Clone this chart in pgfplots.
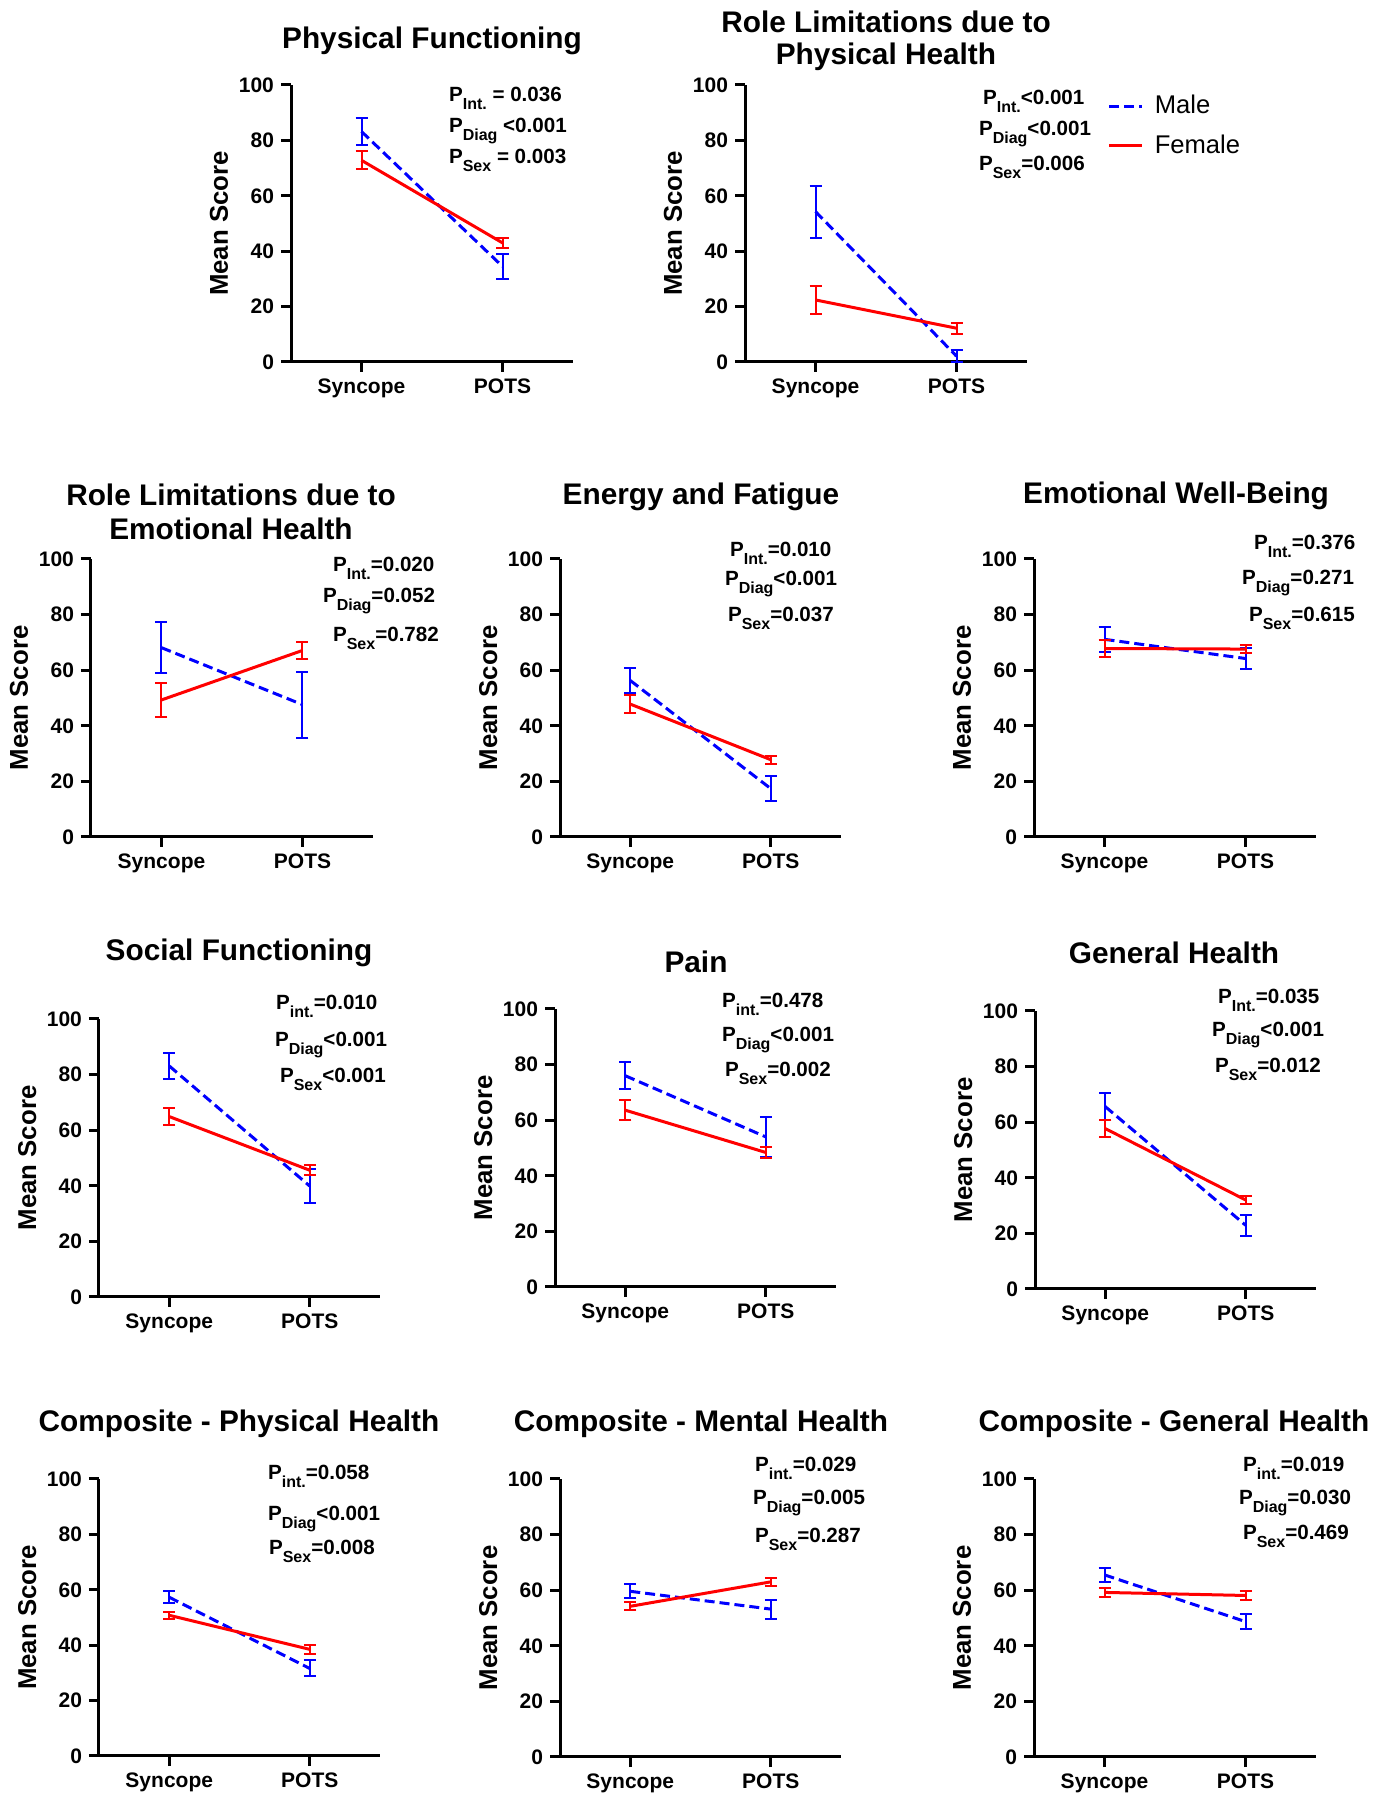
\documentclass[border=0pt]{standalone}
\usepackage{fontspec}
\setmainfont{Liberation Sans}
\usepackage{pgfplots}
\pgfplotsset{compat=1.18}
\newlength\px
\setlength\px{0.5pt}
\definecolor{mblue}{RGB}{0,0,255}
\definecolor{fred}{RGB}{255,0,0}
\newcommand\sub[1]{\raisebox{-3.85pt}{\fontsize{8}{9}\selectfont #1}}
\newcommand\pf{\bfseries\fontsize{10.3}{12}\selectfont}
\newcommand\tf{\bfseries\fontsize{14.9}{17}\selectfont}
\pgfplotsset{
  panel/.style={
    scale only axis, anchor=south west,
    xmin=-0.5, xmax=1.5, ymin=0, ymax=100,
    axis lines=left,
    axis line style={-, line width=1.5pt, black},
    tick align=outside,
    major tick length=10\px,
    tick style={line width=1.5pt, black},
    xtick={0,1}, xticklabels={Syncope,POTS},
    ytick={0,20,40,60,80,100},
    /pgf/number format/assume math mode=true,
    ticklabel style={font=\bfseries\fontsize{10.5}{12}\selectfont},
    ylabel={Mean Score},
    ylabel style={at={(axis description cs:-0.255,0.5)}, anchor=center, font=\bfseries\fontsize{12.9}{14}\selectfont},
    clip=false,
    legend image code/.code={\draw[##1] (0pt,0pt) -- (16.5pt,0pt);},
  },
  male/.style={mblue, line width=1.5pt, dash pattern=on 5pt off 2.5pt, mark=none,
    error bars/.cd, y dir=both, y explicit,
    error bar style={line width=1pt, solid, mblue},
    error mark options={rotate=90, mark size=3pt, line width=1pt, solid, mblue}},
  female/.style={fred, line width=1.5pt, solid, mark=none,
    error bars/.cd, y dir=both, y explicit,
    error bar style={line width=1pt, solid, fred},
    error mark options={rotate=90, mark size=3pt, line width=1pt, solid, fred}},
}
\begin{document}
\begin{tikzpicture}
\useasboundingbox (0,0) rectangle (1373\px,1800\px);

% Panel 1: Physical Functioning
\begin{axis}[panel, at={(291\px,1438\px)}, width=282\px, height=277\px]
\addplot[male] coordinates {(0,83.2) +- (0,5.0) (1,34.5) +- (0,4.5)};
\addplot[female] coordinates {(0,72.8) +- (0,3.3) (1,43.0) +- (0,1.8)};
\end{axis}
\node[anchor=base, font=\tf] at (432\px,1751\px) {Physical Functioning};
\node[anchor=base west, font=\pf] at (442\px,1698\px) {P\sub{Int.} = 0.036};
\node[anchor=base west, font=\pf] at (442\px,1667\px) {P\sub{Diag} <0.001};
\node[anchor=base west, font=\pf] at (442\px,1636\px) {P\sub{Sex} = 0.003};

% Panel 2: Role Limitations due to Physical Health
\begin{axis}[panel, at={(745\px,1438\px)}, width=282\px, height=277\px,
  legend style={at={(axis description cs:1.285,0.852)}, anchor=west, draw=none, fill=none,
    inner sep=0pt, font=\fontsize{12.8}{14}\selectfont, row sep=5pt, column sep=3.5pt},
  legend cell align=left]
\addplot[male] coordinates {(0,54.3) +- (0,9.4) (1,2.1) +- (0,2.1)};
\addlegendentry{Male}
\addplot[female] coordinates {(0,22.4) +- (0,5.2) (1,12.2) +- (0,2.0)};
\addlegendentry{Female}
\end{axis}
\node[anchor=base, font=\tf] at (886\px,1767\px) {Role Limitations due to};
\node[anchor=base, font=\tf] at (886\px,1735\px) {Physical Health};
\node[anchor=base west, font=\pf] at (976\px,1695\px) {P\sub{Int.}<0.001};
\node[anchor=base west, font=\pf] at (972\px,1664\px) {P\sub{Diag}<0.001};
\node[anchor=base west, font=\pf] at (972\px,1629\px) {P\sub{Sex}=0.006};

% Panel 3: Role Limitations due to Emotional Health
\begin{axis}[panel, at={(91\px,963\px)}, width=282\px, height=278\px]
\addplot[male] coordinates {(0,68.1) +- (0,9.1) (1,47.6) +- (0,11.9)};
\addplot[female] coordinates {(0,49.3) +- (0,6.0) (1,67.1) +- (0,3.2)};
\end{axis}
\node[anchor=base, font=\tf] at (231\px,1294\px) {Role Limitations due to};
\node[anchor=base, font=\tf] at (231\px,1260\px) {Emotional Health};
\node[anchor=base west, font=\pf] at (326\px,1228\px) {P\sub{Int.}=0.020};
\node[anchor=base west, font=\pf] at (316\px,1197\px) {P\sub{Diag}=0.052};
\node[anchor=base west, font=\pf] at (326\px,1158\px) {P\sub{Sex}=0.782};

% Panel 4: Energy and Fatigue
\begin{axis}[panel, at={(560\px,963\px)}, width=281\px, height=278\px]
\addplot[male] coordinates {(0,56.3) +- (0,4.6) (1,17.4) +- (0,4.5)};
\addplot[female] coordinates {(0,47.8) +- (0,3.2) (1,27.8) +- (0,1.4)};
\end{axis}
\node[anchor=base, font=\tf] at (701\px,1295\px) {Energy and Fatigue};
\node[anchor=base west, font=\pf] at (723\px,1243\px) {P\sub{Int.}=0.010};
\node[anchor=base west, font=\pf] at (718\px,1214\px) {P\sub{Diag}<0.001};
\node[anchor=base west, font=\pf] at (721\px,1178\px) {P\sub{Sex}=0.037};

% Panel 5: Emotional Well-Being
\begin{axis}[panel, at={(1034\px,963\px)}, width=282\px, height=278\px]
\addplot[male] coordinates {(0,71.1) +- (0,4.6) (1,64.2) +- (0,3.7)};
\addplot[female] coordinates {(0,67.8) +- (0,3.0) (1,67.6) +- (0,1.5)};
\end{axis}
\node[anchor=base, font=\tf] at (1176\px,1296\px) {Emotional Well-Being};
\node[anchor=base west, font=\pf] at (1247\px,1250\px) {P\sub{Int.}=0.376};
\node[anchor=base west, font=\pf] at (1235\px,1215\px) {P\sub{Diag}=0.271};
\node[anchor=base west, font=\pf] at (1242\px,1178\px) {P\sub{Sex}=0.615};

% Panel 6: Social Functioning
\begin{axis}[panel, at={(99\px,503\px)}, width=281\px, height=278\px]
\addplot[male] coordinates {(0,83.1) +- (0,4.7) (1,39.9) +- (0,6.1)};
\addplot[female] coordinates {(0,64.9) +- (0,3.1) (1,45.6) +- (0,1.8)};
\end{axis}
\node[anchor=base, font=\tf] at (239\px,839\px) {Social Functioning};
\node[anchor=base west, font=\pf] at (269\px,790\px) {P\sub{int.}=0.010};
\node[anchor=base west, font=\pf] at (268\px,753\px) {P\sub{Diag}<0.001};
\node[anchor=base west, font=\pf] at (273\px,717\px) {P\sub{Sex}<0.001};

% Panel 7: Pain
\begin{axis}[panel, at={(555\px,513\px)}, width=281\px, height=278\px]
\addplot[male] coordinates {(0,76.0) +- (0,4.8) (1,54.0) +- (0,7.1)};
\addplot[female] coordinates {(0,63.6) +- (0,3.5) (1,48.4) +- (0,2.0)};
\end{axis}
\node[anchor=base, font=\tf] at (696\px,827\px) {Pain};
\node[anchor=base west, font=\pf] at (715\px,792\px) {P\sub{int.}=0.478};
\node[anchor=base west, font=\pf] at (715\px,758\px) {P\sub{Diag}<0.001};
\node[anchor=base west, font=\pf] at (718\px,723\px) {P\sub{Sex}=0.002};

% Panel 8: General Health
\begin{axis}[panel, at={(1035\px,511\px)}, width=281\px, height=278\px]
\addplot[male] coordinates {(0,65.6) +- (0,4.9) (1,22.9) +- (0,3.8)};
\addplot[female] coordinates {(0,57.7) +- (0,3.1) (1,32.0) +- (0,1.5)};
\end{axis}
\node[anchor=base, font=\tf] at (1174\px,836\px) {General Health};
\node[anchor=base west, font=\pf] at (1211\px,796\px) {P\sub{Int.}=0.035};
\node[anchor=base west, font=\pf] at (1205\px,763\px) {P\sub{Diag}<0.001};
\node[anchor=base west, font=\pf] at (1208\px,727\px) {P\sub{Sex}=0.012};

% Panel 9: Composite - Physical Health
\begin{axis}[panel, at={(99\px,44\px)}, width=281\px, height=277\px]
\addplot[male] coordinates {(0,57.3) +- (0,2.2) (1,31.6) +- (0,2.9)};
\addplot[female] coordinates {(0,50.8) +- (0,1.2) (1,38.5) +- (0,1.5)};
\end{axis}
\node[anchor=base, font=\tf] at (239\px,368\px) {Composite - Physical Health};
\node[anchor=base west, font=\pf] at (261\px,320\px) {P\sub{int.}=0.058};
\node[anchor=base west, font=\pf] at (261\px,279\px) {P\sub{Diag}<0.001};
\node[anchor=base west, font=\pf] at (262\px,245\px) {P\sub{Sex}=0.008};

% Panel 10: Composite - Mental Health
\begin{axis}[panel, at={(560\px,43\px)}, width=281\px, height=278\px]
\addplot[male] coordinates {(0,59.6) +- (0,2.5) (1,53.2) +- (0,3.4)};
\addplot[female] coordinates {(0,54.2) +- (0,1.5) (1,63.0) +- (0,1.5)};
\end{axis}
\node[anchor=base, font=\tf] at (701\px,368\px) {Composite - Mental Health};
\node[anchor=base west, font=\pf] at (748\px,328\px) {P\sub{int.}=0.029};
\node[anchor=base west, font=\pf] at (746\px,295\px) {P\sub{Diag}=0.005};
\node[anchor=base west, font=\pf] at (748\px,257\px) {P\sub{Sex}=0.287};

% Panel 11: Composite - General Health
\begin{axis}[panel, at={(1034\px,43\px)}, width=282\px, height=278\px]
\addplot[male] coordinates {(0,65.5) +- (0,2.4) (1,48.7) +- (0,2.6)};
\addplot[female] coordinates {(0,59.2) +- (0,1.5) (1,58.1) +- (0,1.5)};
\end{axis}
\node[anchor=base, font=\tf] at (1174\px,368\px) {Composite - General Health};
\node[anchor=base west, font=\pf] at (1236\px,328\px) {P\sub{int.}=0.019};
\node[anchor=base west, font=\pf] at (1232\px,295\px) {P\sub{Diag}=0.030};
\node[anchor=base west, font=\pf] at (1236\px,260\px) {P\sub{Sex}=0.469};
\end{tikzpicture}
\end{document}
